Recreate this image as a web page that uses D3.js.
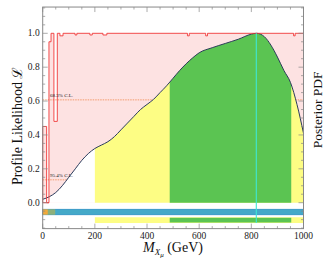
<!DOCTYPE html>
<html><head><meta charset="utf-8">
<script src="https://cdn.jsdelivr.net/npm/d3@7"></script>
<style>body{margin:0;background:#fff}svg{display:block}</style>
</head><body>
<script>
// Profile likelihood step histogram (bin start GeV, value)
const likeStart = [0, 15, 24, 32, 43, 56, 66, 78, 124, 131, 181, 190, 231, 246, 555, 562, 625, 632, 962, 968, 1000];
const likeVal   = [0.45, 0.0, 0.95, 1.0, 0.48, 1.0, 0.985, 1.0, 0.99, 1.0, 0.99, 1.0, 0.99, 1.0, 0.985, 1.0, 0.985, 1.0, 0.985, 1.0, 1.0];
// Posterior PDF
const postX = [0, 25, 50, 75, 100, 125, 150, 175, 200, 225, 250, 275, 300, 325, 350, 375, 400, 425, 450, 475, 500, 525, 550, 575, 600, 650, 700, 750, 800, 820, 850, 875, 900, 925, 950, 975, 1000];
const postY = [0.02, 0.035, 0.06, 0.1, 0.15, 0.2, 0.25, 0.29, 0.32, 0.34, 0.36, 0.39, 0.43, 0.47, 0.51, 0.55, 0.58, 0.61, 0.65, 0.69, 0.735, 0.78, 0.82, 0.855, 0.885, 0.915, 0.94, 0.965, 0.995, 1.0, 0.98, 0.93, 0.86, 0.78, 0.71, 0.58, 0.41];
const ci95 = [200, 1000];
const ci68 = [487, 953];
const bestFit = 819;
const clLevels = [{v: 0.607, label: "68.3% C.L."}, {v: 0.135, label: "95.4% C.L."}];
const xTicks = [0, 200, 400, 600, 800, 1000];
const yTicks = [0, 0.2, 0.4, 0.6, 0.8, 1.0];

const W = 330, H = 264;
const FONT = '"Liberation Serif", "Times New Roman", serif';
const x = d3.scaleLinear([0, 1000], [42.7, 303.5]);
const y = d3.scaleLinear([0, 1], [202.7, 33.3]);
const yMin = -0.153, yMax = 1.155;

const svg = d3.select("body").append("svg").attr("width", W).attr("height", H);

// pink likelihood fill
const stepData = likeStart.map((s, i) => [s, likeVal[i]]);
svg.append("path").datum(stepData)
  .attr("d", d3.area().x(d => x(d[0])).y0(y(0)).y1(d => y(d[1])).curve(d3.curveStepAfter))
  .attr("fill", "#fde2e2");

// CL dashed lines
clLevels.forEach(c => {
  svg.append("line").attr("x1", x(0)).attr("x2", x(1000)).attr("y1", y(c.v)).attr("y2", y(c.v))
    .attr("stroke", "#f08a50").attr("stroke-width", 0.8).attr("stroke-dasharray", "1.5,1");
});

// posterior areas
const postData = postX.map((v, i) => [v, postY[i]]);
const area = d3.area().x(d => x(d[0])).y0(y(0)).y1(d => y(d[1])).curve(d3.curveMonotoneX);
const defs = svg.append("defs");
function clip(id, a, b) {
  defs.append("clipPath").attr("id", id).append("rect")
    .attr("x", x(a)).attr("width", x(b) - x(a)).attr("y", 0).attr("height", H);
}
clip("c95", ci95[0], ci95[1]);
clip("c68", ci68[0], ci68[1]);
svg.append("path").datum(postData).attr("d", area).attr("fill", "#fff");
svg.append("path").datum(postData).attr("d", area).attr("fill", "#fdfd84").attr("clip-path", "url(#c95)");
svg.append("path").datum(postData).attr("d", area).attr("fill", "#5bc452").attr("clip-path", "url(#c68)");
svg.append("path").datum(postData)
  .attr("d", d3.line().x(d => x(d[0])).y(d => y(d[1])).curve(d3.curveMonotoneX))
  .attr("fill", "none").attr("stroke", "#2b3b5c").attr("stroke-width", 1);

// likelihood step line
svg.append("path").datum(stepData)
  .attr("d", d3.line().x(d => x(d[0])).y(d => y(d[1])).curve(d3.curveStepAfter))
  .attr("fill", "none").attr("stroke", "#f03838").attr("stroke-width", 0.9);
svg.append("line").attr("x1", x(0)).attr("x2", x(0)).attr("y1", y(0)).attr("y2", y(likeVal[0]))
  .attr("stroke", "#f03838").attr("stroke-width", 0.9);
svg.append("line").attr("x1", x(0)).attr("x2", x(likeStart[2])).attr("y1", y(0)).attr("y2", y(0))
  .attr("stroke", "#f03838").attr("stroke-width", 0.9);

function txt(sel) { return sel.style("font-family", FONT); }

// CL labels
clLevels.forEach(c => {
  txt(svg.append("text")).attr("x", x(28)).attr("y", y(c.v) - 2.5).attr("font-size", 5).attr("fill", "#222").text(c.label);
});

// bars below
svg.append("rect").attr("x", x(0)).attr("width", x(1000) - x(0)).attr("y", y(-0.039)).attr("height", y(-0.071) - y(-0.039))
  .attr("fill", "#44a9c8").attr("stroke", "#2a8fc2").attr("stroke-width", 0.8);
svg.append("rect").attr("x", x(0)).attr("width", x(20) - x(0)).attr("y", y(-0.039)).attr("height", y(-0.071) - y(-0.039))
  .attr("fill", "#f2aa3a");
svg.append("rect").attr("x", x(20)).attr("width", x(48) - x(20)).attr("y", y(-0.039)).attr("height", y(-0.071) - y(-0.039))
  .attr("fill", "#8db07a");
svg.append("rect").attr("x", x(ci95[0])).attr("width", x(ci95[1]) - x(ci95[0])).attr("y", y(-0.086)).attr("height", y(-0.12) - y(-0.086))
  .attr("fill", "#fdfd84");
svg.append("rect").attr("x", x(ci68[0])).attr("width", x(ci68[1]) - x(ci68[0])).attr("y", y(-0.089)).attr("height", y(-0.117) - y(-0.089))
  .attr("fill", "#5bc452");

// best fit line
svg.append("line").attr("x1", x(bestFit)).attr("x2", x(bestFit)).attr("y1", y(1.0)).attr("y2", y(-0.12))
  .attr("stroke", "#3ee6d6").attr("stroke-width", 1.1);

// frame
const fx0 = x(0), fx1 = x(1000), fy0 = y(yMax), fy1 = y(yMin);
svg.append("rect").attr("x", fx0).attr("y", fy0).attr("width", fx1 - fx0).attr("height", fy1 - fy0)
  .attr("fill", "none").attr("stroke", "#888").attr("stroke-width", 1);

const tk = svg.append("g").attr("stroke", "#888").attr("stroke-width", 0.7);
d3.range(-0.15, 1.151, 0.05).forEach(v => {
  const major = Math.abs(Math.round(v * 5) - v * 5) < 1e-6;
  const len = major ? 5 : 2.5;
  tk.append("line").attr("x1", fx0).attr("x2", fx0 + len).attr("y1", y(v)).attr("y2", y(v));
  tk.append("line").attr("x1", fx1).attr("x2", fx1 - len).attr("y1", y(v)).attr("y2", y(v));
});
d3.range(0, 1001, 50).forEach(v => {
  const len = v % 200 === 0 ? 5 : 2.5;
  tk.append("line").attr("x1", x(v)).attr("x2", x(v)).attr("y1", fy1).attr("y2", fy1 - len);
  tk.append("line").attr("x1", x(v)).attr("x2", x(v)).attr("y1", fy0).attr("y2", fy0 + len);
});

yTicks.forEach(v => {
  txt(svg.append("text")).attr("x", fx0 - 3).attr("y", y(v) + 3).attr("text-anchor", "end").attr("font-size", 9.5).attr("fill", "#222")
    .text(d3.format(".1f")(v));
});
xTicks.forEach(v => {
  txt(svg.append("text")).attr("x", x(v)).attr("y", fy1 + 10).attr("text-anchor", "middle").attr("font-size", 9.5).attr("fill", "#222").text(v);
});

// axis titles
txt(svg.append("text")).attr("transform", `translate(22,${(fy0 + fy1) / 2 + 8}) rotate(-90)`).attr("text-anchor", "middle")
  .attr("font-size", 14).attr("fill", "#111").text("Profile Likelihood \u2112");
txt(svg.append("text")).attr("transform", `translate(322,${(fy0 + fy1) / 2 - 8}) rotate(-90)`).attr("text-anchor", "middle")
  .attr("font-size", 13.5).attr("fill", "#111").text("Posterior PDF");
const xt = txt(svg.append("text")).attr("x", 173).attr("y", 252).attr("text-anchor", "middle").attr("font-size", 14).attr("fill", "#111");
xt.append("tspan").attr("font-style", "italic").text("M");
xt.append("tspan").attr("font-style", "italic").attr("font-size", 9).attr("dy", 3).text("X");
xt.append("tspan").attr("font-style", "italic").attr("font-size", 7).attr("dy", 2).text("\u03bc");
xt.append("tspan").attr("dy", -5).text(" (GeV)");
</script>
</body></html>
